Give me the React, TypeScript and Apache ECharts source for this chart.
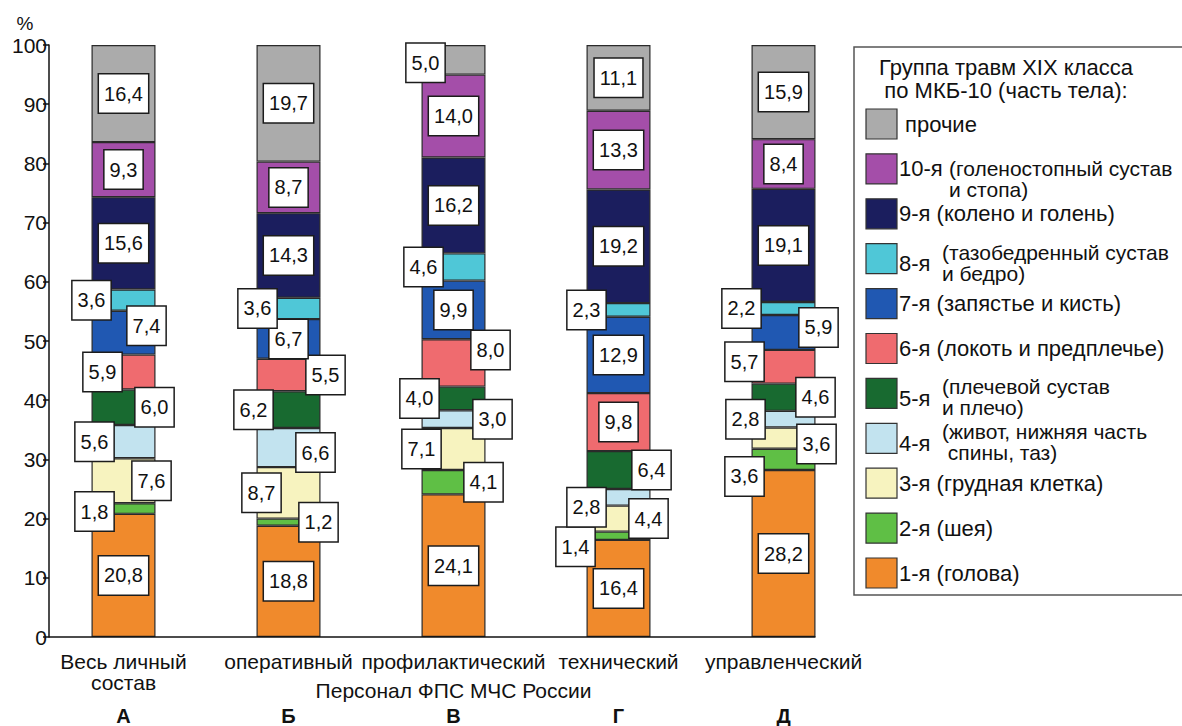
import React, { useEffect, useRef } from "react";
import * as echarts from "echarts";

// Персонал ФПС МЧС России: структура травм XIX класса МКБ-10 по части тела, %
const categories = ["Весь личный\nсостав", "оперативный", "профилактический", "технический", "управленческий"];
const letters = ["А", "Б", "В", "Г", "Д"];
const yTicks = [0, 10, 20, 30, 40, 50, 60, 70, 80, 90, 100];

const head = [20.8, 18.8, 24.1, 16.4, 28.2];
const neck = [1.8, 1.2, 4.1, 1.4, 3.6];
const chest = [7.6, 8.7, 7.1, 4.4, 3.6];
const abdomen = [5.6, 6.6, 3.0, 2.8, 2.8];
const shoulder = [6.0, 6.2, 4.0, 6.4, 4.6];
const elbow = [5.9, 5.5, 8.0, 9.8, 5.7];
const wrist = [7.4, 6.7, 9.9, 12.9, 5.9];
const hip = [3.6, 3.6, 4.6, 2.3, 2.2];
const knee = [15.6, 14.3, 16.2, 19.2, 19.1];
const ankle = [9.3, 8.7, 14.0, 13.3, 8.4];
const other = [16.4, 19.7, 5.0, 11.1, 15.9];

const seriesNames = ["1-я", "2-я", "3-я", "4-я", "5-я", "6-я", "7-я", "8-я", "9-я", "10-я", "прочие"];
const seriesValues = [head, neck, chest, abdomen, shoulder, elbow, wrist, hip, knee, ankle, other];
const seriesColors = [
  "#f08a2c", "#5fbf45", "#f7f3bf", "#c2e3ef", "#186a30", "#ef6b6f",
  "#2058b2", "#4fc7d7", "#1b1e5e", "#a44ea9", "#ababab",
];

// where each value box sits: C — centred, L — on the left edge, R — on the right edge
const placement = [
  ["C", "C", "C", "C", "C"],
  ["L", "R", "R", "L", "L"],
  ["R", "L", "L", "R", "R"],
  ["L", "R", "R", "L", "L"],
  ["R", "L", "L", "R", "R"],
  ["L", "R", "R", "C", "L"],
  ["R", "C", "C", "C", "R"],
  ["L", "L", "L", "L", "L"],
  ["C", "C", "C", "C", "C"],
  ["C", "C", "C", "C", "C"],
  ["C", "C", "L", "C", "C"],
];
// fine shifts of the value boxes, [dx, dy] in px
const nudge: Record<string, [number, number]> = {
  "1-0": [3, 3], "2-0": [-4, 0], "3-0": [3, 0], "4-0": [-1, 0], "5-0": [11, 0], "6-0": [-9, -7], "7-0": [0, 0],
  "1-1": [-2, 0], "2-1": [5, 0], "3-1": [-5, 5], "4-1": [-3, 0], "5-1": [5, 0], "7-1": [1, 0],
  "1-2": [-2, 0], "2-2": [0, 0], "3-2": [7, 0], "4-2": [-2, 0], "5-2": [5, -13], "7-2": [2, 0], "10-2": [4, 3],
  "1-3": [-11, 11], "2-3": [-2, 0], "3-3": [0, 10], "4-3": [1, 0], "7-3": [0, 0],
  "1-4": [-7, 17], "2-4": [1, 6], "3-4": [-6, 0], "4-4": [0, 0], "5-4": [-7, -5], "6-4": [3, -5], "7-4": [-10, 0],
};

const legendTitle = "Группа травм XIX класса\nпо МКБ-10 (часть тела):";
// legend rows, top to bottom: number, description lines
const legendRows: { num: string; lines: string[]; color: number }[] = [
  { num: "", lines: ["прочие"], color: 10 },
  { num: "10-я", lines: ["(голеностопный сустав", "и стопа)"], color: 9 },
  { num: "9-я", lines: ["(колено и голень)"], color: 8 },
  { num: "8-я", lines: ["(тазобедренный сустав", "и бедро)"], color: 7 },
  { num: "7-я", lines: ["(запястье и кисть)"], color: 6 },
  { num: "6-я", lines: ["(локоть и предплечье)"], color: 5 },
  { num: "5-я", lines: ["(плечевой сустав", "и плечо)"], color: 4 },
  { num: "4-я", lines: ["(живот, нижняя часть", " спины, таз)"], color: 3 },
  { num: "3-я", lines: ["(грудная клетка)"], color: 2 },
  { num: "2-я", lines: ["(шея)"], color: 1 },
  { num: "1-я", lines: ["(голова)"], color: 0 },
];

const FONT = "'Liberation Sans', Arial, sans-serif";
const GRID = { left: 41, right: 316, top: 45, bottom: 89 };
const AXIS_SHIFT = 8; // y axis drawn slightly inside the grid's left edge
const BAR_W = 64;
const LEG_FONT = 22;

const fmt = (v: number) => v.toFixed(1).replace(".", ",");

function makeLabel(place: string, dx: number, dy: number) {
  const base: any = {
    show: true,
    formatter: (p: any) => fmt(p.value),
    backgroundColor: "#ffffff",
    borderColor: "#1c1c1c",
    borderWidth: 1.5,
    padding: [10, 5, 8, 5],
    fontSize: 20,
    color: "#111",
    fontFamily: FONT,
    align: "center",
    verticalAlign: "middle",
    offset: [dx, dy],
  };
  if (place === "L") base.position = [0, "50%"];
  else if (place === "R") base.position = ["100%", "50%"];
  else base.position = "inside";
  return base;
}

function buildLegend(): any[] {
  const els: any[] = [];
  els.push({
    type: "rect",
    shape: { x: 854, y: 47, width: 360, height: 548 },
    style: { fill: "#fff", stroke: "#555", lineWidth: 1.5 },
    z: 10,
  });
  els.push({
    type: "text",
    x: 1006,
    y: 79,
    style: {
      text: legendTitle,
      font: `${LEG_FONT}px ${FONT}`,
      lineHeight: 23,
      fill: "#111",
      align: "center",
      verticalAlign: "middle",
    },
    z: 11,
  });
  const txt = (text: string, x: number, y: number, size: number) =>
    els.push({
      type: "text",
      x,
      y,
      style: {
        text,
        font: `${size}px ${FONT}`,
        lineHeight: size,
        fill: "#111",
        align: "left",
        verticalAlign: "middle",
      },
      z: 11,
    });
  legendRows.forEach((row, i) => {
    const cy = 124 + i * 44.9;
    els.push({
      type: "rect",
      shape: { x: 866, y: cy - 15, width: 31, height: 30 },
      style: { fill: seriesColors[row.color], stroke: "#333", lineWidth: 1.2 },
      z: 11,
    });
    if (!row.num) {
      txt(row.lines[0], 905, cy, LEG_FONT);
    } else if (row.lines.length === 1) {
      txt(`${row.num} ${row.lines[0]}`, 899, cy, LEG_FONT);
    } else if (row.num === "10-я") {
      txt(row.num, 899, cy, LEG_FONT);
      txt(row.lines.join("\n"), 949, cy + 10, LEG_FONT - 1);
    } else {
      txt(row.num, 899, cy + 5, LEG_FONT);
      txt(row.lines.join("\n"), 942, cy + 4, LEG_FONT - 1);
    }
  });
  return els;
}

export default function App() {
  const ref = useRef<HTMLDivElement>(null);

  useEffect(() => {
    if (!ref.current) return;
    const chart = echarts.init(ref.current, null, { renderer: "svg" });

    const series = seriesValues.map((vals, si) => ({
      name: seriesNames[si],
      type: "bar",
      stack: "total",
      barWidth: BAR_W,
      xAxisIndex: 0,
      itemStyle: { color: seriesColors[si], borderColor: "#2a2a2a", borderWidth: 1.2 },
      data: vals.map((v, ci) => {
        const n = nudge[`${si}-${ci}`] || [0, 0];
        return { value: v, label: makeLabel(placement[si][ci], n[0], n[1]) };
      }),
    }));

    chart.setOption({
      animation: false,
      backgroundColor: "#ffffff",
      textStyle: { fontFamily: FONT },
      grid: { ...GRID, containLabel: false },
      xAxis: [
        {
          type: "category",
          data: categories,
          axisLine: { show: false },
          axisTick: { show: false },
          axisLabel: { fontSize: 21, color: "#111", margin: 14, lineHeight: 21, fontFamily: FONT, interval: 0 },
          name: "Персонал ФПС МЧС России",
          nameLocation: "middle",
          nameGap: 53,
          nameMoveOverlap: false,
          nameTextStyle: { fontSize: 21, color: "#111", fontFamily: FONT, verticalAlign: "middle" },
        },
        {
          type: "category",
          data: letters,
          position: "bottom",
          axisLine: { show: false },
          axisTick: { show: false },
          axisLabel: { fontSize: 20, fontWeight: "bold", color: "#111", margin: 69, fontFamily: FONT, interval: 0 },
        },
      ],
      yAxis: {
        type: "value",
        min: yTicks[0],
        max: yTicks[yTicks.length - 1],
        interval: 10,
        offset: -AXIS_SHIFT,
        axisLine: { show: true, lineStyle: { color: "#111", width: 1.5 } },
        axisTick: { show: true, length: 6, lineStyle: { color: "#111", width: 1.5 } },
        axisLabel: { fontSize: 21, color: "#111", margin: 2, fontFamily: FONT },
        splitLine: { show: false },
      },
      series,
      graphic: [
        {
          id: "pct",
          type: "text",
          x: 25,
          y: 23,
          style: { text: "%", font: `19px ${FONT}`, fill: "#111", align: "center", verticalAlign: "middle" },
        },
        ...buildLegend(),
      ],
    });

    // baseline from the y axis to the right edge of the last bar
    const zeroY = chart.convertToPixel({ yAxisIndex: 0 }, 0) as number;
    const lastX = chart.convertToPixel({ xAxisIndex: 0 }, categories[categories.length - 1]) as number;
    chart.setOption({
      graphic: [
        {
          id: "baseline",
          type: "line",
          shape: { x1: GRID.left + AXIS_SHIFT, y1: zeroY, x2: lastX + BAR_W / 2, y2: zeroY },
          style: { stroke: "#111", lineWidth: 1.5 },
          z: 5,
        },
      ],
    });

    return () => chart.dispose();
  }, []);

  return (
    <div
      ref={ref}
      style={{ position: "fixed", left: 0, top: 0, width: 1182, height: 726, background: "#fff" }}
    />
  );
}
